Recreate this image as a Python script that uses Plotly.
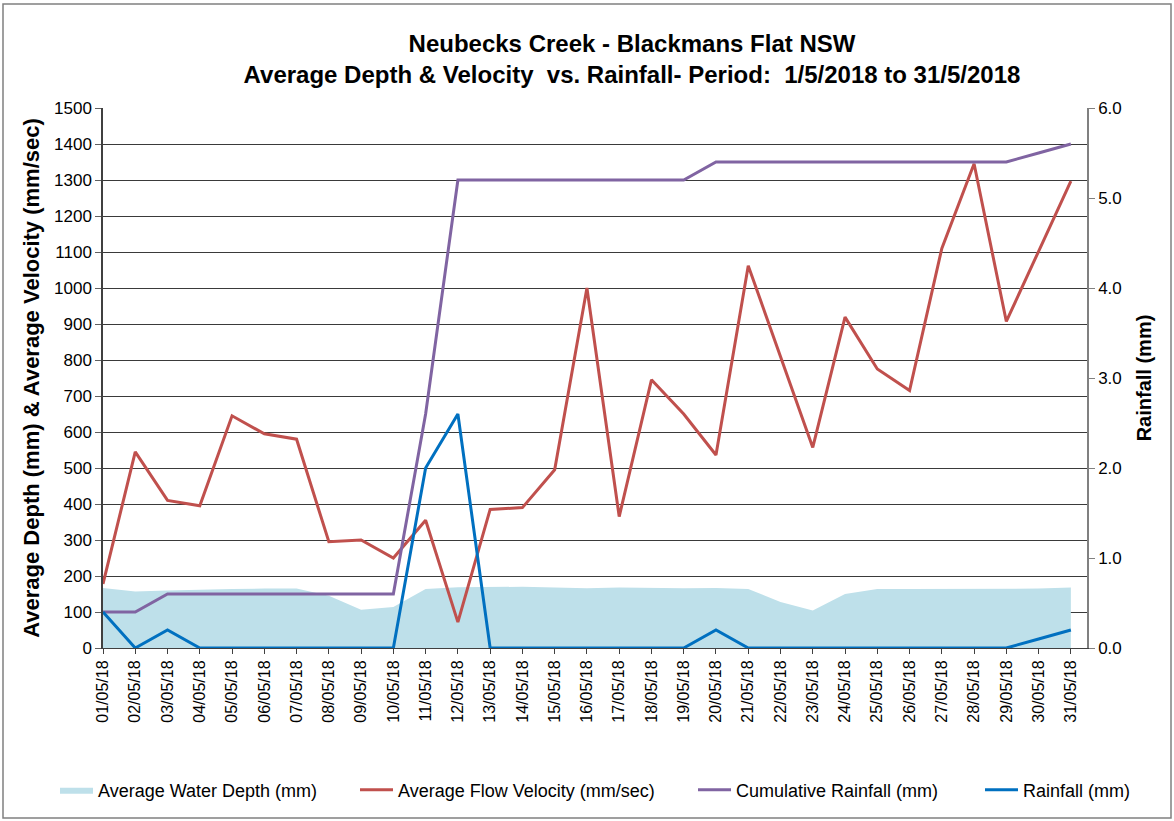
import plotly.graph_objects as go

# 日期类别
dates = [f"{d:02d}/05/18" for d in range(1, 32)]

# 平均水深 (mm)
depth = [167, 157, 160, 163, 164, 165, 165, 145, 106, 114,
         164, 169, 170, 170, 168, 166, 168, 166, 166, 167,
         164, 128, 104, 150, 164, 164, 164, 163, 163, 165, 168]

# 平均流速 (mm/sec)
velocity = [178, 545, 410, 395, 645, 595, 580, 295, 300, 250,
            355, 72, 385, 390, 495, 1000, 365, 745, 650, 536,
            1062, 810, 557, 919, 775, 715, 1110, 1345, 907, 1102, 1297]

# 累计降雨 (mm)
cum_rain = [0.4, 0.4, 0.6, 0.6, 0.6, 0.6, 0.6, 0.6, 0.6, 0.6,
            2.6, 5.2, 5.2, 5.2, 5.2, 5.2, 5.2, 5.2, 5.2, 5.4,
            5.4, 5.4, 5.4, 5.4, 5.4, 5.4, 5.4, 5.4, 5.4, 5.5, 5.6]

# 日降雨 (mm)
rain = [0.4, 0.0, 0.2, 0.0, 0.0, 0.0, 0.0, 0.0, 0.0, 0.0,
        2.0, 2.6, 0.0, 0.0, 0.0, 0.0, 0.0, 0.0, 0.0, 0.2,
        0.0, 0.0, 0.0, 0.0, 0.0, 0.0, 0.0, 0.0, 0.0, 0.1, 0.2]

FONT = "Arial, Liberation Sans, sans-serif"
W, H = 1174, 821
L, R, T, B = 103, 87, 108, 173
pw, ph = W - L - R, H - T - B


def px_x(x):
    return (x - L) / pw


def px_y(y):
    return (H - B - y) / ph


fig = go.Figure()

fig.add_trace(go.Scatter(
    x=dates, y=depth, name="Average Water Depth (mm)",
    mode="lines", line=dict(width=0, color="#BEE0EA"),
    fill="tozeroy", fillcolor="#BEE0EA", legend="legend",
))
fig.add_trace(go.Scatter(
    x=dates, y=velocity, name="Average Flow Velocity (mm/sec)",
    mode="lines", line=dict(width=3, color="#C0504D"), legend="legend2",
))
fig.add_trace(go.Scatter(
    x=dates, y=cum_rain, name="Cumulative Rainfall (mm)", yaxis="y2",
    mode="lines", line=dict(width=3, color="#8064A2"), legend="legend3",
))
fig.add_trace(go.Scatter(
    x=dates, y=rain, name="Rainfall (mm)", yaxis="y2",
    mode="lines", line=dict(width=3, color="#0070C0"), legend="legend4",
))

leg_y = px_y(790)
leg_common = dict(orientation="h", yanchor="middle", y=leg_y, xanchor="left",
                  font=dict(family=FONT, size=18, color="#000"),
                  bgcolor="rgba(0,0,0,0)", itemwidth=33)

fig.update_layout(
    width=W, height=H,
    margin=dict(l=L, r=R, t=T, b=B),
    paper_bgcolor="white", plot_bgcolor="white",
    font=dict(family=FONT, color="#000"),
    showlegend=True,
    title=dict(
        text="<b>Neubecks Creek - Blackmans Flat NSW<br>"
             "Average Depth & Velocity  vs. Rainfall- Period:  1/5/2018 to 31/5/2018</b>",
        x=632 / W, xanchor="center", y=1 - 52 / H, yanchor="middle",
        font=dict(family=FONT, size=24, color="#000"),
    ),
    xaxis=dict(
        type="category", range=[0, 30.5], tickangle=-90,
        tickfont=dict(family=FONT, size=16, color="#000"),
        ticks="outside", ticklen=5, tickcolor="#404040",
        showline=True, linecolor="#404040", linewidth=1,
        showgrid=False,
    ),
    yaxis=dict(
        range=[0, 1500], dtick=100,
        tickfont=dict(family=FONT, size=17, color="#000"),
        ticks="outside", ticklen=6, tickcolor="#606060",
        showline=True, linecolor="#404040", linewidth=1.5,
        gridcolor="#3a3a3a", gridwidth=1, zeroline=False,
        title=dict(text="<b>Average Depth (mm) & Average Velocity (mm/sec)</b>",
                   font=dict(family=FONT, size=22, color="#000"), standoff=8),
    ),
    yaxis2=dict(
        range=[0, 6], dtick=1, tickformat=".1f", overlaying="y", side="right",
        tickfont=dict(family=FONT, size=17, color="#000"),
        ticks="outside", ticklen=6, tickcolor="#808080",
        showline=True, linecolor="#808080", linewidth=1.5,
        showgrid=False, zeroline=False,
        title=dict(text="<b>Rainfall (mm)</b>",
                   font=dict(family=FONT, size=20, color="#000"), standoff=16),
    ),
    legend=dict(x=px_x(55), **leg_common),
    legend2=dict(x=px_x(355), **leg_common),
    legend3=dict(x=px_x(693), **leg_common),
    legend4=dict(x=px_x(980), **leg_common),
    shapes=[dict(
        type="rect", xref="paper", yref="paper",
        x0=px_x(3), x1=px_x(1171), y0=px_y(818), y1=px_y(4),
        line=dict(color="#808080", width=1.5),
    )],
)

fig.write_html("out.html", config={"displayModeBar": False},
               post_script="document.body.style.margin='0';")
